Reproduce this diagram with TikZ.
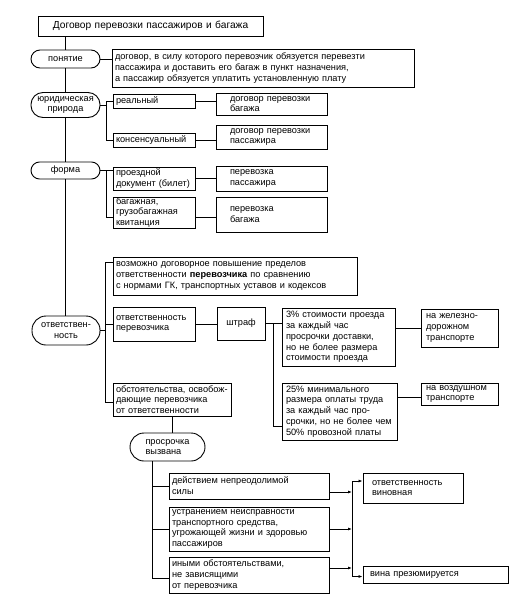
\documentclass[tikz,border=0pt]{standalone}
\usepackage{fontspec}
\setmainfont{Liberation Sans}
\usetikzlibrary{arrows.meta}
\newcommand\dfont{\fontsize{9.2}{10.8}\selectfont}
\tikzset{
 bx/.style={draw, line width=0.9pt, inner xsep=3pt, inner ysep=0pt, align=left, font=\dfont},
 ov/.style={draw, line width=0.9pt, rounded corners=#1, inner sep=0pt, align=center, font=\dfont},
 ln/.style={line width=0.8pt},
 arr/.style={line width=0.8pt, -{Latex[length=4pt,width=3pt]}}
}
\begin{document}
\begin{tikzpicture}[x=1pt,y=-1pt]
\useasboundingbox (0,0) rectangle (514,600);
% nodes
\node[bx, align=center, text width=219pt, minimum height=20pt, font=\fontsize{10.2}{12}\selectfont] (title) at (150.5,26) {Договор перевозки пассажиров и багажа};
\node[ov=9pt, minimum width=69pt, minimum height=18pt] (pon) at (65.5,59) {понятие};
\node[bx, text width=296pt, minimum height=38pt] (def) at (263,68) {договор, в силу которого перевозчик обязуется перевезти\\пассажира и доставить его багаж в пункт назначения,\\а пассажир обязуется уплатить установленную плату};
\node[ov=12pt, minimum width=69pt, minimum height=25pt] (yur) at (65.5,105) {юридическая\\природа};
\node[bx, text width=76pt, minimum height=14pt] (real) at (154,101) {реальный};
\node[bx, inner xsep=14pt, text width=83pt, minimum height=22pt] (dogbag) at (271.5,104) {договор перевозки\\багажа};
\node[bx, text width=76pt, minimum height=14pt] (kons) at (154,140) {консенсуальный};
\node[bx, inner xsep=14pt, text width=83pt, minimum height=24pt] (dogpas) at (271.5,137) {договор перевозки\\пассажира};
\node[ov=8.5pt, minimum width=69pt, minimum height=17pt] (forma) at (65.5,170.5) {форма};
\node[bx, text width=76pt, minimum height=23pt] (bilet) at (154,178.5) {проездной\\документ (билет)};
\node[bx, inner xsep=14pt, text width=83pt, minimum height=25pt] (perpas) at (271.5,178.5) {перевозка\\пассажира};
\node[bx, text width=76pt, minimum height=31pt] (kvit) at (154,212.5) {багажная,\\грузобагажная\\квитанция};
\node[bx, inner xsep=14pt, text width=83pt, minimum height=35pt] (perbag) at (271.5,214.5) {перевозка\\багажа};
\node[ov=14pt, minimum width=68pt, minimum height=29pt] (otv) at (66,330.5) {ответствен-\\ность};
\node[bx, text width=238pt, minimum height=38pt] (vozm) at (235,276) {возможно договорное повышение пределов\\ответственности \textbf{перевозчика} по сравнению\\с нормами ГК, транспортных уставов и кодексов};
\node[bx, text width=76pt, minimum height=34pt] (otvper) at (154,324) {ответственность\\перевозчика};
\node[bx, align=center, text width=42pt, minimum height=33pt] (shtraf) at (241,323.5) {штраф};
\node[bx, inner xsep=4pt, text width=105pt, minimum height=58pt] (p3) at (338.5,337) {3\% стоимости проезда\\за каждый час\\просрочки доставки,\\но не более размера\\стоимости проезда};
\node[bx, inner xsep=5pt, text width=67pt, minimum height=38pt] (zhd) at (459.5,328) {на железно-\\дорожном\\транспорте};
\node[bx, inner xsep=4pt, text width=107pt, minimum height=57pt] (p25) at (339.5,411.5) {25\% минимального\\размера оплаты труда\\за каждый час про-\\срочки, но не более чем\\50\% провозной платы};
\node[bx, inner xsep=5pt, text width=67pt, minimum height=22pt] (vozd) at (459.5,394) {на воздушном\\транспорте};
\node[bx, text width=112pt, minimum height=33pt] (obst) at (172,399.5) {обстоятельства, освобож-\\дающие перевозчика\\от ответственности};
\node[ov=14pt, minimum width=75pt, minimum height=28pt, align=left] (prosr) at (167.5,447) {просрочка\\вызвана};
\node[bx, text width=154pt, minimum height=26pt] (d1) at (249,486) {действием непреодолимой\\силы};
\node[bx, text width=154pt, minimum height=44pt] (d2) at (249,529) {устранением неисправности\\транспортного средства,\\угрожающей жизни и здоровью\\пассажиров};
\node[bx, text width=154pt, minimum height=36pt] (d3) at (249,575) {иными обстоятельствами,\\не зависящими\\от перевозчика};
\node[bx, inner xsep=9pt, text width=82pt, minimum height=30pt] (vinov) at (413,488) {ответственность\\виновная};
\node[bx, inner xsep=7pt, text width=131pt, minimum height=17pt] (prez) at (435.5,574.5) {вина презюмируется};
% connectors
\draw[ln] (title.south -| pon.north) -- (pon.north);
\draw[ln] (pon.south) -- (yur.north);
\draw[ln] (yur.south) -- (forma.north);
\draw[ln] (forma.south) -- (forma.south |- otv.north);
\draw[ln] (pon.east) -- (pon.east -| def.west);
\draw[ln] (yur.east) -- ++(7,0);
\draw[ln] (real.west) -- ++(-6,0) |- (kons.west);
\draw[ln] (real.east) -- (real.east -| dogbag.west);
\draw[ln] (kons.east) -- (kons.east -| dogpas.west);
\draw[ln] (forma.east) -- ++(7,0);
\draw[ln] ([yshift=-3.5pt]bilet.north west) -- ++(-6,0) |- ([yshift=-4.5pt]kvit.west);
\draw[ln] (bilet.east) -- (bilet.east -| perpas.west);
\draw[ln] ([yshift=-4.5pt]kvit.east) -- ([yshift=-4.5pt]kvit.east -| perbag.west);
\draw[ln] ([yshift=-6pt]vozm.north west) -- ++(-7,0) |- ([yshift=-2.5pt]obst.west);
\draw[ln] (otv.east) -- ++(6,0);
\draw[ln] (otvper.west) -- ++(-7,0);
\draw[ln] (otvper.east) -- (otvper.east -| shtraf.west);
\draw[ln] (shtraf.east) -- (shtraf.east -| p3.west);
\coordinate (sb) at (273,323.5);
\draw[ln] (sb) |- ([yshift=-14.5pt]p25.west);
\draw[ln] (zhd.west -| p3.east) -- (zhd.west);
\draw[ln] ([yshift=-3pt]vozd.west -| p25.east) -- ([yshift=-3pt]vozd.west);
\draw[ln] (obst.south) -- (obst.south |- prosr.north);
\coordinate (pv) at (152,0);
\draw[ln] (prosr.south -| pv) |- ([yshift=-3pt]d3.west);
\draw[ln] (d1.west) -- (d1.west -| pv);
\draw[ln] (d2.west) -- (d2.west -| pv);
\coordinate (av) at (352,0);
\draw[arr] ([yshift=-6pt]d1.east) -- ([yshift=-6pt]d1.east -| av);
\draw[arr] (d2.east) -- (d2.east -| av);
\draw[arr] ([yshift=7pt]d3.east) -- ([yshift=7pt]d3.east -| av);
\draw[ln] ([yshift=7pt]vinov.west -| av) -- ([yshift=-2pt]prez.west -| av);
\draw[arr] ([yshift=7pt]vinov.west -| av) -- ([yshift=7pt]vinov.west);
\draw[arr] ([yshift=-2pt]prez.west -| av) -- ([yshift=-2pt]prez.west);
\end{tikzpicture}
\end{document}
